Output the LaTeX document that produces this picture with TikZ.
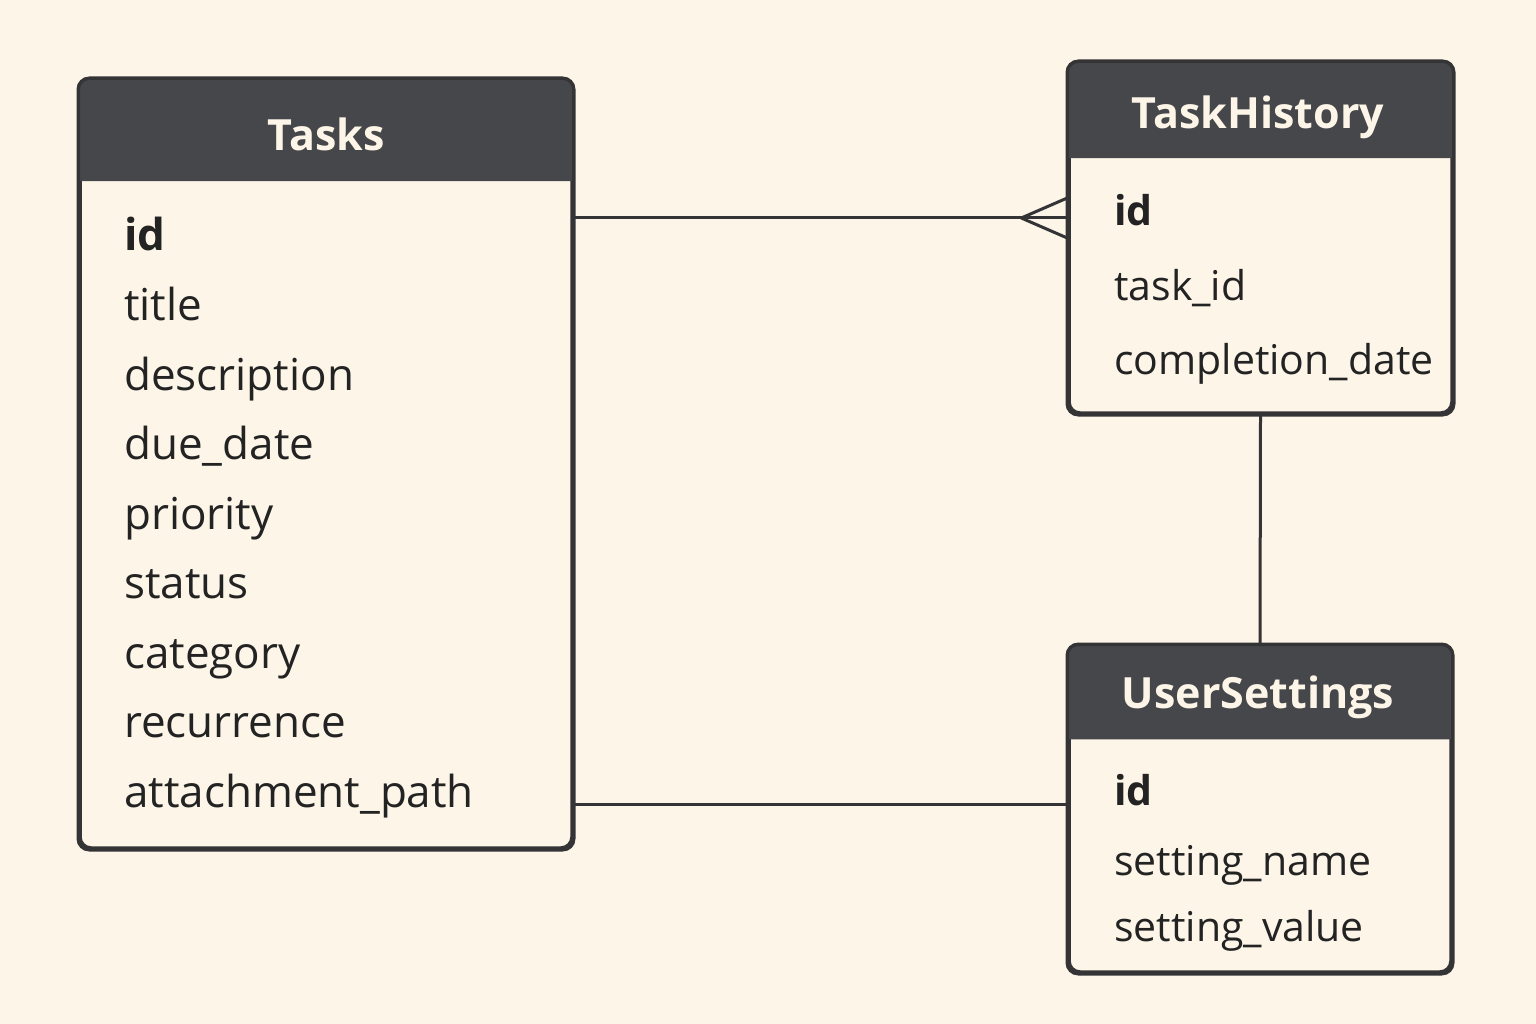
\documentclass[tikz,border=0pt]{standalone}
\usepackage{fontspec}
\setmainfont{Open Sans}
\usetikzlibrary{positioning}
\definecolor{paper}{HTML}{FDF6E8}
\definecolor{ink}{HTML}{232323}
\definecolor{edge}{HTML}{343436}
\definecolor{slate}{HTML}{46474A}
\tikzset{table/.style={draw=edge,line width=3.5pt,rounded corners=11pt,fill=paper,inner sep=0pt},
  head/.style={fill=slate,rounded corners=11pt},
  title/.style={text=paper,font=\fontsize{43}{50}\selectfont\bfseries},
  field/.style={anchor=base west,inner sep=0pt,text=ink,font=\fontsize{41}{48}\selectfont},
  bigfield/.style={field,font=\fontsize{44}{50}\selectfont},
  link/.style={draw=edge,line width=3pt}}

\begin{document}
\begin{tikzpicture}[x=1pt,y=-1pt]
\fill[paper] (0,0) rectangle (1536,1024);
\useasboundingbox (0,0) rectangle (1536,1024);
% tables
\node[table,minimum width=492pt,minimum height=768pt] (tasks) at (326,464) {};
\node[table,minimum width=383pt,minimum height=350pt] (history) at (1260.5,238) {};
\node[table,minimum width=382pt,minimum height=326pt] (users) at (1260,809) {};
% headers
\fill[head] ([yshift=-103pt]tasks.north west) -- (tasks.north west) -- (tasks.north east) [sharp corners] -- ([yshift=-103pt]tasks.north east) -- cycle;
\fill[head] ([yshift=-97pt]history.north west) -- (history.north west) -- (history.north east) [sharp corners] -- ([yshift=-97pt]history.north east) -- cycle;
\fill[head] ([yshift=-95pt]users.north west) -- (users.north west) -- (users.north east) [sharp corners] -- ([yshift=-95pt]users.north east) -- cycle;
\draw[edge,line width=3.5pt,rounded corners=11pt] (tasks.south west) rectangle (tasks.north east);
\draw[edge,line width=3.5pt,rounded corners=11pt] (history.south west) rectangle (history.north east);
\draw[edge,line width=3.5pt,rounded corners=11pt] (users.south west) rectangle (users.north east);
\node[title] (tasks-title) at (326,134) {Tasks};
\node[title] (history-title) at (1258,117) {TaskHistory};
\node[title] (users-title) at (1258,697) {UserSettings};
% fields
\node[bigfield] (tasks-id) at (124,251) {\textbf{id}};
\foreach \f [count=\i] in {title,description,due\_date,priority,status,category,recurrence,attachment\_path}
  \node[bigfield] (tasks-f\i) at (124,251+69.5*\i) {\f};
\node[field] (history-id) at (1114,226) {\textbf{id}};
\node[field] (history-f1) at (1114,300) {task\_id};
\node[field] (history-f2) at (1114,374) {completion\_date};
\node[field] (users-id) at (1114,805) {\textbf{id}};
\node[field] (users-f1) at (1114,875) {setting\_name};
\node[field] (users-f2) at (1114,941) {setting\_value};
% relations
\coordinate (foot) at ([yshift=20pt]history.west);
\draw[link] (tasks.east |- foot) -- (foot);
\draw[link] ([xshift=-46pt]foot) -- ([yshift=20pt]foot);
\draw[link] ([xshift=-46pt]foot) -- ([yshift=-20pt]foot);
\draw[link] (history.south) -- (users.north);
\draw[link] (tasks.east |- users.west) ++(0,-5) coordinate (tu) -- (users.west |- tu);
\end{tikzpicture}
\end{document}
